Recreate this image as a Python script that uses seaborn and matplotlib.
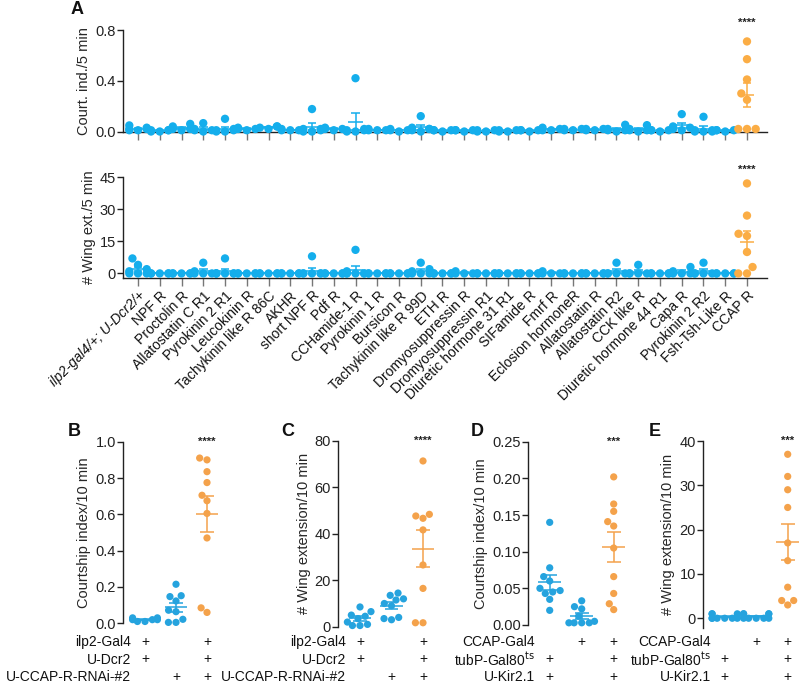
import numpy as np
import pandas as pd
import matplotlib
matplotlib.use('Agg')
import matplotlib.pyplot as plt
import matplotlib.transforms as mtransforms
import seaborn as sns

sns.set_theme(style='ticks')
plt.rcParams['font.family'] = ['Liberation Sans', 'DejaVu Sans']

BLUE = '#14aeec'
ORANGE = '#fbad45'
BLUE2 = '#25a3de'
ORANGE2 = '#f4a24b'

# ---- panel A data ----
receptors = [
    'ilp2-gal4/+; U-Dcr2/+', 'NPF R', 'Proctolin R', 'Allatostatin C R1', 'Pyrokinin 2 R1',
    'Leucokinin R', 'Tachykinin like R 86C', 'AKHR', 'short NPF R', 'Pdf R',
    'CCHamide-1 R', 'Pyrokinin 1 R', 'Bursicon R', 'Tachykinin like R 99D', 'ETH R',
    'Dromyosuppressin R', 'Dromyosuppressin R1', 'Diuretic hormone 31 R1', 'SIFamide R', 'Fmrf R',
    'Eclosion hormoneR', 'Allatostatin R', 'Allatostatin R2', 'CCK like R', 'Diuretic hormone 44 R1',
    'Capa R', 'Pyrokinin 2 R2', 'Fsh-Tsh-Like R', 'CCAP R',
]
court_5min = [
    [0.048, 0.03, 0.02, 0.02, 0.01, 0.01],
    [0.01, 0.01, 0.01, 0.0, 0.0],
    [0.06, 0.04, 0.02, 0.02, 0.01],
    [0.066, 0.02, 0.01, 0.01, 0.0],
    [0.10, 0.02, 0.01, 0.01, 0.0, 0.0],
    [0.03, 0.02, 0.02, 0.01],
    [0.04, 0.04, 0.03, 0.02],
    [0.02, 0.01, 0.01, 0.01],
    [0.177, 0.02, 0.02, 0.01, 0.0, 0.0],
    [0.03, 0.02, 0.02, 0.01],
    [0.42, 0.02, 0.01, 0.01, 0.0, 0.0],
    [0.02, 0.01, 0.01, 0.01],
    [0.02, 0.01, 0.01, 0.0],
    [0.121, 0.03, 0.02, 0.02, 0.01, 0.0],
    [0.01, 0.01, 0.01, 0.0],
    [0.01, 0.01, 0.01, 0.0],
    [0.01, 0.01, 0.0, 0.0],
    [0.01, 0.01, 0.0, 0.0],
    [0.01, 0.01, 0.01, 0.0],
    [0.03, 0.02, 0.01, 0.01],
    [0.02, 0.02, 0.01, 0.01],
    [0.02, 0.02, 0.01, 0.01],
    [0.053, 0.02, 0.01, 0.01, 0.0],
    [0.05, 0.02, 0.01, 0.01, 0.0],
    [0.01, 0.01, 0.01, 0.0],
    [0.137, 0.04, 0.03, 0.02, 0.01],
    [0.116, 0.01, 0.01, 0.0, 0.0, 0.0],
    [0.01, 0.01, 0.01, 0.0],
    [0.71, 0.57, 0.41, 0.30, 0.25, 0.02, 0.02, 0.02],
]
wing_5min = [
    [7, 4, 2, 1, 0, 0, 0],
    [0, 0, 0, 0, 0],
    [0, 0, 0, 0, 0],
    [5, 1, 0, 0, 0],
    [7, 0, 0, 0, 0, 0, 0],
    [0, 0, 0, 0, 0],
    [0, 0, 0, 0, 0],
    [0, 0, 0, 0, 0],
    [8, 0, 0, 0, 0, 0],
    [0, 0, 0, 0, 0],
    [11, 1, 0, 0, 0, 0, 0],
    [0, 0, 0, 0, 0],
    [0, 0, 0, 0, 0],
    [5, 2, 1, 0, 0, 0],
    [0, 0, 0, 0, 0],
    [1, 0, 0, 0],
    [0, 0, 0, 0, 0],
    [0, 0, 0, 0, 0],
    [0, 0, 0, 0, 0],
    [1, 0, 0, 0],
    [0, 0, 0, 0, 0],
    [0, 0, 0, 0, 0],
    [5, 0, 0, 0, 0],
    [4, 0, 0, 0, 0],
    [0, 0, 0, 0, 0],
    [3, 1, 0, 0, 0],
    [5, 0, 0, 0, 0],
    [0, 0, 0, 0, 0],
    [42, 27, 18.5, 17.5, 10, 3, 0, 0],
]

# ---- panels B-E data ----
b_court = [
    [0.02, 0.03, 0.01, 0.02, 0.03, 0.01, 0.02],
    [0.215, 0.152, 0.147, 0.123, 0.064, 0.072, 0.022, 0.005, 0.005],
    [0.90, 0.91, 0.835, 0.775, 0.705, 0.675, 0.605, 0.47, 0.085, 0.06],
]
c_wing = [
    [8.5, 6.5, 5, 4.5, 3.5, 2, 1, 0.5, 0.5],
    [14.5, 13.5, 12, 11.5, 10, 9, 4, 3.5, 3],
    [71.4, 48.4, 47.7, 46.7, 41.7, 26.6, 16.5, 1.7, 1.7],
]
d_court = [
    [0.14, 0.078, 0.066, 0.06, 0.05, 0.047, 0.045, 0.043, 0.035, 0.02],
    [0.033, 0.025, 0.022, 0.012, 0.005, 0.003, 0.003, 0.003, 0.003],
    [0.202, 0.165, 0.155, 0.141, 0.135, 0.105, 0.066, 0.043, 0.029, 0.021],
]
e_wing = [
    [1, 1, 1, 0.5, 0, 0, 0, 0, 0, 0],
    [1, 1, 1, 1, 0, 0, 0, 0, 0],
    [37, 32, 29, 25, 17, 13, 7, 4, 4, 3],
]

rows_bc = ['ilp2-Gal4', 'U-Dcr2', 'U-CCAP-R-RNAi-#2']
plus_bc = [[1, 0, 1], [1, 0, 1], [0, 1, 1]]
rows_de = ['CCAP-Gal4', r'tubP-Gal80$^{\mathrm{ts}}$', 'U-Kir2.1']
plus_de = [[0, 1, 1], [1, 0, 1], [1, 0, 1]]

W, H = 800, 686
fig = plt.figure(figsize=(W / 100, H / 100), dpi=100)


def rect(x0, x1, ytop, ybot):
    return [x0 / W, 1 - ybot / H, (x1 - x0) / W, (ybot - ytop) / H]


def long_df(groups, names):
    recs = []
    for name, vals in zip(names, groups):
        for v in vals:
            recs.append((name, v))
    return pd.DataFrame(recs, columns=['group', 'value'])


def mean_sem(ax, groups, colors, half, cap, lw=1.1):
    for i, (vals, c) in enumerate(zip(groups, colors)):
        v = np.asarray(vals, dtype=float)
        m = v.mean()
        se = v.std(ddof=1) / np.sqrt(len(v))
        kw = dict(color=c, lw=lw, zorder=4, clip_on=False)
        ax.hlines(m, i - half, i + half, **kw)
        ax.vlines(i, m - se, m + se, **kw)
        ax.hlines([m - se, m + se], i - cap, i + cap, **kw)


def style_axis(ax):
    for s in ['top', 'right']:
        ax.spines[s].set_visible(False)
    for s in ['left', 'bottom']:
        ax.spines[s].set_color('#222222')
        ax.spines[s].set_linewidth(1.0)
    ax.tick_params(axis='y', direction='out', length=4, width=1, colors='#222222',
                   labelsize=10.5, pad=1)
    ax.set_xlabel('')


def unclip(ax):
    for coll in ax.collections:
        coll.set_clip_on(False)


# ---- panel A ----
colorsA = [BLUE] * (len(receptors) - 1) + [ORANGE]
for k, (vals, ylab, ticks, tlabels, ylim, ytop, ybot) in enumerate([
        (court_5min, 'Court. ind./5 min', [0, 0.4, 0.8], ['0.0', '0.4', '0.8'], (0, 0.8), 30, 131.5),
        (wing_5min, '# Wing ext./5 min', [0, 15, 30, 45], ['0', '15', '30', '45'], (-1.9, 45), 177, 277.5)]):
    ax = fig.add_axes(rect(123, 767, ytop, ybot))
    df = long_df(vals, receptors)
    sns.swarmplot(data=df, x='group', y='value', hue='group', order=receptors,
                  hue_order=receptors, palette=colorsA, size=6, legend=False,
                  ax=ax, warn_thresh=1, linewidth=0)
    unclip(ax)
    mean_sem(ax, vals, colorsA, half=0.33, cap=0.2)
    ax.set_xlim(-0.69, 28.92)
    ax.set_ylim(*ylim)
    ax.set_yticks(ticks)
    ax.set_yticklabels(tlabels)
    ax.set_ylabel(ylab, fontsize=10.5, labelpad=3)
    style_axis(ax)
    ax.tick_params(axis='x', direction='out', length=6, width=1, colors='#777777')
    ax.spines['left'].set_bounds(ylim[0] if k else 0, ylim[1])
    ax.text(28, ylim[1] + (ylim[1] - ylim[0]) * 0.07, '****', ha='center', va='center',
            fontsize=8, weight='bold', color='#222222', clip_on=False)
    if k == 0:
        ax.set_xticklabels([])
    else:
        ax.set_xticks(range(len(receptors)))
        ax.set_xticklabels(receptors, rotation=45, ha='right', rotation_mode='anchor',
                           fontsize=10, color='#111111')
        ax.tick_params(axis='x', labelcolor='#111111', pad=2)
        ax.get_xticklabels()[0].set_style('italic')

# ---- panels B-E ----
panels = [
    (b_court, 'Courtship index/10 min', [0, 0.2, 0.4, 0.6, 0.8, 1.0],
     ['0.0', '0.2', '0.4', '0.6', '0.8', '1.0'], (0, 1.0), 123, 31, 441.7, 623.3, '****', rows_bc, plus_bc),
    (c_wing, '# Wing extension/10 min', [0, 20, 40, 60, 80],
     ['0', '20', '40', '60', '80'], (0, 80), 338, 31.5, 441, 626.7, '****', rows_bc, plus_bc),
    (d_court, 'Courtship index/10 min', [0, 0.05, 0.10, 0.15, 0.20, 0.25],
     ['0.00', '0.05', '0.10', '0.15', '0.20', '0.25'], (0, 0.25), 527.7, 32, 441.7, 625, '***', rows_de, plus_de),
    (e_wing, '# Wing extension/10 min', [0, 10, 20, 30, 40],
     ['0', '10', '20', '30', '40'], (-2.2, 40), 702.7, 31.5, 441, 628, '***', rows_de, plus_de),
]
grp_names = ['g1', 'g2', 'g3']
colorsBE = [BLUE2, BLUE2, ORANGE2]
row_y = [1 - 642 / H, 1 - 659.5 / H, 1 - 677 / H]

for vals, ylab, ticks, tlabels, ylim, xaxis, step, ytop, ybot, stars, rows, plus in panels:
    first = xaxis + 22
    x0 = xaxis
    x1 = first + 2.55 * step
    ax = fig.add_axes(rect(x0, min(x1, 800), ytop, ybot))
    df = long_df(vals, grp_names)
    sns.swarmplot(data=df, x='group', y='value', hue='group', order=grp_names,
                  hue_order=grp_names, palette=colorsBE, size=5.2, legend=False,
                  ax=ax, warn_thresh=1, linewidth=0)
    unclip(ax)
    mean_sem(ax, vals, colorsBE, half=0.36, cap=0.22)
    ax.set_xlim(-22 / step, (min(x1, 800) - first) / step)
    ax.set_ylim(*ylim)
    ax.set_yticks(ticks)
    ax.set_yticklabels(tlabels)
    ax.set_ylabel(ylab, fontsize=10.5, labelpad=3)
    style_axis(ax)
    ax.spines['bottom'].set_visible(False)
    ax.set_xticks([])
    ax.text(2, ylim[1], stars, ha='center', va='center', fontsize=8, weight='bold',
            color='#222222', clip_on=False)
    tr = mtransforms.blended_transform_factory(ax.transData, fig.transFigure)
    for r, (lab, marks) in enumerate(zip(rows, plus)):
        ax.text(-0.45, row_y[r], lab, transform=tr, ha='right', va='center',
                fontsize=10, color='#111111')
        for g, on in enumerate(marks):
            if on:
                ax.text(g, row_y[r], '+', transform=tr, ha='center', va='center',
                        fontsize=10, color='#111111')

# panel letters
for letter, x, y in [('A', 77, 10), ('B', 74, 431), ('C', 288, 431),
                     ('D', 477, 431), ('E', 655, 431)]:
    fig.text(x / W, 1 - y / H, letter, ha='center', va='center', fontsize=13,
             weight='bold', color='#111111')

fig.savefig('out.png', dpi=100)
